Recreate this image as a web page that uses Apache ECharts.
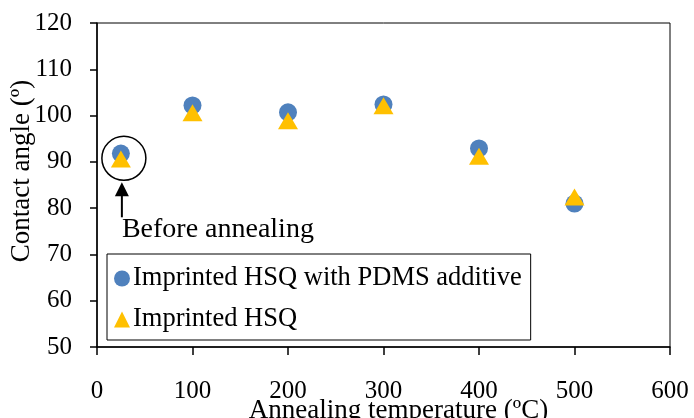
<!DOCTYPE html>
<html lang="en">
<head>
    <meta charset="utf-8"/>
    <title>Contact angle</title>
    <script src="https://cdn.jsdelivr.net/npm/echarts@6/dist/echarts.min.js"></script>
    <style>
        html, body { margin: 0; padding: 0; background: #fff; }
        #main { width: 694px; height: 418px; }
    </style>
</head>
<body>
<div id="main"></div>
<script>
    // data
    var temps = [25, 100, 200, 300, 400, 500];
    var pdmsAngle = [91.8, 102.2, 100.7, 102.4, 92.9, 81.0];
    var hsqAngle = [90.6, 100.6, 98.9, 102.1, 91.2, 82.4];
    var seriesNames = ['Imprinted HSQ with PDMS additive', 'Imprinted HSQ'];

    var font = 'Liberation Serif';
    var chart = echarts.init(document.getElementById('main'));

    function pairs(xs, ys) {
        return xs.map(function (x, i) { return [x, ys[i]]; });
    }

    var option = {
        animation: false,
        textStyle: { fontFamily: font, color: '#000' },
        grid: {
            left: 97, right: 24, top: 23, bottom: 71,
            outerBoundsMode: 'none', containLabel: false,
            show: true, borderColor: '#000', borderWidth: 1
        },
        legend: {
            orient: 'vertical',
            left: 107, top: 254,
            padding: [11, 9, 7, 7],
            itemGap: 14,
            itemWidth: 16, itemHeight: 16,
            borderColor: '#000', borderWidth: 1,
            backgroundColor: '#fff',
            textStyle: { fontFamily: font, fontSize: 26.5, color: '#000', padding: [0, 0, 0, -2] },
            data: [
                { name: seriesNames[0], icon: 'circle' },
                { name: seriesNames[1], icon: 'triangle' }
            ]
        },
        xAxis: {
            type: 'value', min: 0, max: 600, interval: 100,
            name: 'Annealing temperature (ºC)',
            nameLocation: 'middle', nameGap: 50, nameMoveOverlap: false,
            nameTextStyle: { fontFamily: font, fontSize: 27, color: '#000', padding: [0, 0, 0, 30] },
            axisLine: { lineStyle: { color: '#000', width: 1.5 } },
            axisTick: { inside: false, length: 8, lineStyle: { color: '#000', width: 1.5 } },
            axisLabel: { fontFamily: font, fontSize: 25, color: '#000', margin: 32 },
            splitLine: { show: false }
        },
        yAxis: {
            type: 'value', min: 50, max: 120, interval: 10,
            name: 'Contact angle (º)',
            nameLocation: 'middle', nameGap: 62, nameMoveOverlap: false,
            nameTextStyle: { fontFamily: font, fontSize: 27, color: '#000', padding: [0, 0, 0, 28] },
            axisLine: { show: true, lineStyle: { color: '#000', width: 1.5 } },
            axisTick: { show: true, inside: false, length: 7, lineStyle: { color: '#000', width: 1.5 } },
            axisLabel: { fontFamily: font, fontSize: 25, color: '#000', margin: 25 },
            splitLine: { show: false }
        },
        series: [
            {
                name: seriesNames[0], type: 'scatter', symbol: 'circle', symbolSize: 18,
                itemStyle: { color: '#4F81BD', opacity: 1 },
                data: pairs(temps, pdmsAngle)
            },
            {
                name: seriesNames[1], type: 'scatter', symbol: 'triangle', symbolSize: [20, 17],
                itemStyle: { color: '#FFC000', opacity: 1 },
                data: pairs(temps, hsqAngle)
            }
        ]
    };
    chart.setOption(option);

    // "Before annealing" annotation anchored on the first point
    var p = chart.convertToPixel({ gridIndex: 0 }, [temps[0], (pdmsAngle[0] + hsqAngle[0]) / 2]);
    var cx = p[0] + 3, cy = p[1] + 2;
    chart.setOption({
        graphic: [
            { type: 'circle', shape: { cx: cx, cy: cy, r: 22 }, style: { fill: 'none', stroke: '#000', lineWidth: 1.5 }, z: 10 },
            { type: 'line', shape: { x1: cx - 2, y1: cy + 36, x2: cx - 2, y2: cy + 59 }, style: { stroke: '#000', lineWidth: 2 }, z: 10 },
            { type: 'polygon', shape: { points: [[cx - 2, cy + 24], [cx - 9, cy + 38], [cx + 5, cy + 38]] }, style: { fill: '#000' }, z: 10 },
            { type: 'text', left: cx - 2, top: cy + 57, style: { text: 'Before annealing', font: '28px "Liberation Serif"', fill: '#000' }, z: 10 }
        ]
    });
</script>
</body>
</html>
